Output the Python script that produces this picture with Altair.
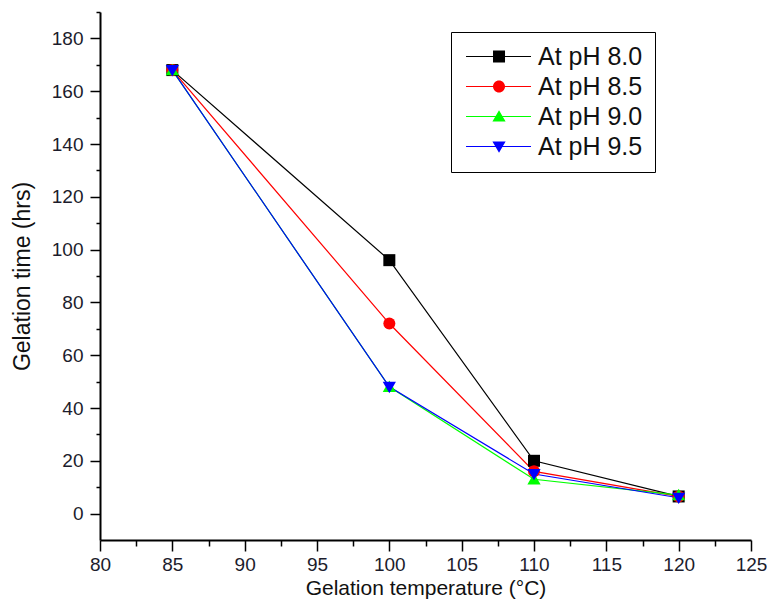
import altair as alt
import pandas as pd

# ---- data ----
temperatures = [85, 100, 110, 120]
series_names = ["At pH 8.0", "At pH 8.5", "At pH 9.0", "At pH 9.5"]
ph_8_0 = [168, 96, 20, 6.5]
ph_8_5 = [168, 72, 16, 6.5]
ph_9_0 = [168, 48, 13, 7]
ph_9_5 = [168, 48, 15, 6]
series_colors = ["#000000", "#ff0000", "#00ff00", "#0000ff"]

x_major_ticks = [80, 85, 90, 95, 100, 105, 110, 115, 120, 125]
x_minor_ticks = [82.5, 87.5, 92.5, 97.5, 102.5, 107.5, 112.5, 117.5, 122.5]
y_major_ticks = [0, 20, 40, 60, 80, 100, 120, 140, 160, 180]
y_minor_ticks = [10, 30, 50, 70, 90, 110, 130, 150, 170, 190]

# plot markers (square, circle, up-triangle, down-triangle)
marker_shapes = [
    "M-1,-1H1V1H-1Z",
    "circle",
    "M0,-1.05L1.1,0.85L-1.1,0.85Z",
    "M-1.1,-0.85L1.1,-0.85L0,1.05Z",
]
# legend symbols: a thin line with the marker on it
legend_bar = "M-1.58,-0.09H9.25V0.09H-1.58Z"
legend_symbols = [
    legend_bar + "M2.92,-1H4.92V1H2.92Z",
    legend_bar + "M2.92,0A1,1 0 1,1 4.92,0A1,1 0 1,1 2.92,0Z",
    legend_bar + "M3.92,-1.05L5.02,0.85L2.82,0.85Z",
    legend_bar + "M2.82,-0.85L5.02,-0.85L3.92,1.05Z",
]

rows = []
for name, values in zip(series_names, [ph_8_0, ph_8_5, ph_9_0, ph_9_5]):
    for t, v in zip(temperatures, values):
        rows.append({"temperature": t, "time": v, "series": name})
df = pd.DataFrame(rows)

FONT = "Liberation Sans"

x_scale = alt.Scale(domain=[80, 125], nice=False, zero=False)
y_scale = alt.Scale(domain=[-10, 190], nice=False, zero=False)
color_scale = alt.Scale(domain=series_names, range=series_colors)

axis_common = dict(
    grid=False,
    domainColor="#000000",
    domainWidth=2,
    tickColor="#000000",
    tickWidth=1.5,
    labelFont=FONT,
    labelFontSize=19,
    labelColor="#1c1c2c",
    labelFlush=False,
    titleFont=FONT,
    titleFontWeight="normal",
    titleColor="#111111",
)

x_axis_major = alt.Axis(values=x_major_ticks, orient="bottom",
                        title="Gelation temperature (°C)", tickSize=11,
                        labelPadding=4, titlePadding=3, titleFontSize=21,
                        **axis_common)
y_axis_major = alt.Axis(values=y_major_ticks, orient="left",
                        title="Gelation time (hrs)", tickSize=10,
                        labelPadding=7, titlePadding=17, titleFontSize=23,
                        **axis_common)
x_axis_minor = alt.Axis(values=x_minor_ticks, orient="bottom", labels=False,
                        domain=False, title=None, tickSize=6, tickWidth=1.5,
                        tickColor="#000000", grid=False)
y_axis_minor = alt.Axis(values=y_minor_ticks, orient="left", labels=False,
                        domain=False, title=None, tickSize=4, tickWidth=1.5,
                        tickColor="#000000", grid=False)

base = alt.Chart(df)

lines = base.mark_line(strokeWidth=1.2).encode(
    x=alt.X("temperature:Q", scale=x_scale, axis=x_axis_major),
    y=alt.Y("time:Q", scale=y_scale, axis=y_axis_major),
    color=alt.Color("series:N", scale=color_scale, legend=None),
)

points = base.mark_point(filled=True, size=144, opacity=1).encode(
    x=alt.X("temperature:Q", scale=x_scale, axis=None),
    y=alt.Y("time:Q", scale=y_scale, axis=None),
    color=alt.Color("series:N", scale=color_scale, legend=None),
    shape=alt.Shape("series:N",
                    scale=alt.Scale(domain=series_names, range=marker_shapes),
                    legend=None),
)

legend_spec = alt.Legend(
    title=None, orient="none", legendX=351, legendY=20, direction="vertical",
    strokeColor="#000000", fillColor="#ffffff", padding=12,
    symbolSize=144, symbolStrokeWidth=0, labelOffset=50,
    labelFont=FONT, labelFontSize=25, labelColor="#111111", rowPadding=4,
)

legend_layer = base.transform_filter(alt.datum.temperature < 0).mark_point(
    filled=True, size=144, opacity=1
).encode(
    x=alt.X("temperature:Q", scale=x_scale, axis=x_axis_minor),
    y=alt.Y("time:Q", scale=y_scale, axis=y_axis_minor),
    color=alt.Color("series:N", scale=color_scale, legend=legend_spec),
    shape=alt.Shape("series:N",
                    scale=alt.Scale(domain=series_names, range=legend_symbols),
                    legend=legend_spec),
)

chart = alt.layer(lines, points, legend_layer).resolve_scale(
    color="independent", shape="independent"
).resolve_axis(
    x="independent", y="independent"
).properties(
    width=651, height=528,
    padding={"left": 92, "top": 4, "right": 16, "bottom": 60},
    autosize=alt.AutoSizeParams(type="none"),
    background="#ffffff",
).configure_view(stroke="transparent")

chart.save("out.html", embed_options={"renderer": "svg", "actions": False})
